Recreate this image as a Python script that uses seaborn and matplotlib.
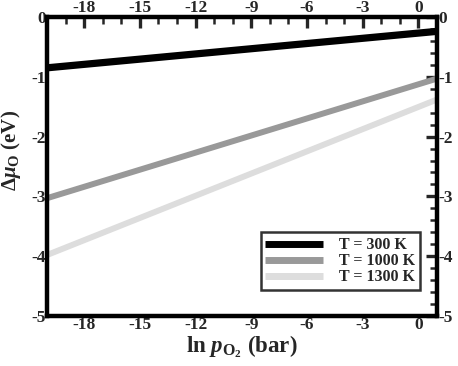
import matplotlib
matplotlib.use("Agg")
import matplotlib.pyplot as plt
import seaborn as sns
import pandas as pd
from matplotlib.ticker import MultipleLocator

# data
ln_p = [-20, 1]
mu_300 = [-0.85, -0.24]
mu_1000 = [-3.03, -1.03]
mu_1300 = [-3.98, -1.38]
labels = ["T = 300 K", "T = 1000 K", "T = 1300 K"]
colors = ["#000000", "#999999", "#dddddd"]

df = pd.concat([
    pd.DataFrame({"x": ln_p, "y": mu_300, "T": labels[0]}),
    pd.DataFrame({"x": ln_p, "y": mu_1000, "T": labels[1]}),
    pd.DataFrame({"x": ln_p, "y": mu_1300, "T": labels[2]}),
])

sns.set_style("white")
plt.rcParams["font.family"] = ["Liberation Serif", "DejaVu Serif"]
plt.rcParams["font.weight"] = "bold"
plt.rcParams["axes.unicode_minus"] = False
plt.rcParams["mathtext.fontset"] = "custom"
plt.rcParams["mathtext.rm"] = "Liberation Serif:bold"
plt.rcParams["mathtext.it"] = "Liberation Serif:italic:bold"
plt.rcParams["mathtext.bf"] = "Liberation Serif:bold"

fig = plt.figure(figsize=(4.58, 3.66), dpi=100)
ax = fig.add_axes([47/458, 1-316/366, (437-47)/458, (316-17)/366])

sns.lineplot(data=df, x="x", y="y", hue="T", palette=colors, ax=ax,
             linewidth=4.3, solid_capstyle="butt")
ax.get_lines()[0].set_linewidth(5.2)

ax.set_xlim(-20, 1)
ax.set_ylim(-5, 0)
ax.xaxis.set_major_locator(MultipleLocator(3))
ax.xaxis.set_minor_locator(MultipleLocator(1))
ax.yaxis.set_major_locator(MultipleLocator(1))
ax.yaxis.set_minor_locator(MultipleLocator(0.2))
ax.tick_params(which="both", direction="in", top=True, right=True,
               labeltop=True, labelright=True, labelsize=12.5, pad=1)
ax.tick_params(which="major", length=8, width=2.4)
ax.tick_params(which="minor", length=5, width=1.8)
for lab in ax.get_xticklabels() + ax.get_yticklabels():
    lab.set_fontweight("bold")
for s in ax.spines.values():
    s.set_linewidth(3.2)
    s.set_color("black")

ax.set_xlabel(r"ln $p_{\mathrm{O_2}}$ (bar)", fontsize=16.5, fontweight="bold")
ax.set_ylabel(r"$\Delta\mu_{\mathrm{O}}$ (eV)", fontsize=15, fontweight="bold")
ax.xaxis.set_label_coords(0.5, -0.057)
ax.yaxis.set_label_coords(-0.062, 0.555)

leg = ax.legend(loc="lower right", bbox_to_anchor=(0.956, 0.087), frameon=True,
                fancybox=False, edgecolor="black", fontsize=11.5,
                handlelength=3.6, borderpad=0.3, labelspacing=0.0,
                handletextpad=1.0, borderaxespad=0)
leg.get_frame().set_linewidth(1.8)
for t in leg.get_texts():
    t.set_fontweight("bold")
for h in leg.get_lines():
    h.set_linewidth(5)
    h.set_solid_capstyle("butt")

fig.savefig("out.png", dpi=100)
